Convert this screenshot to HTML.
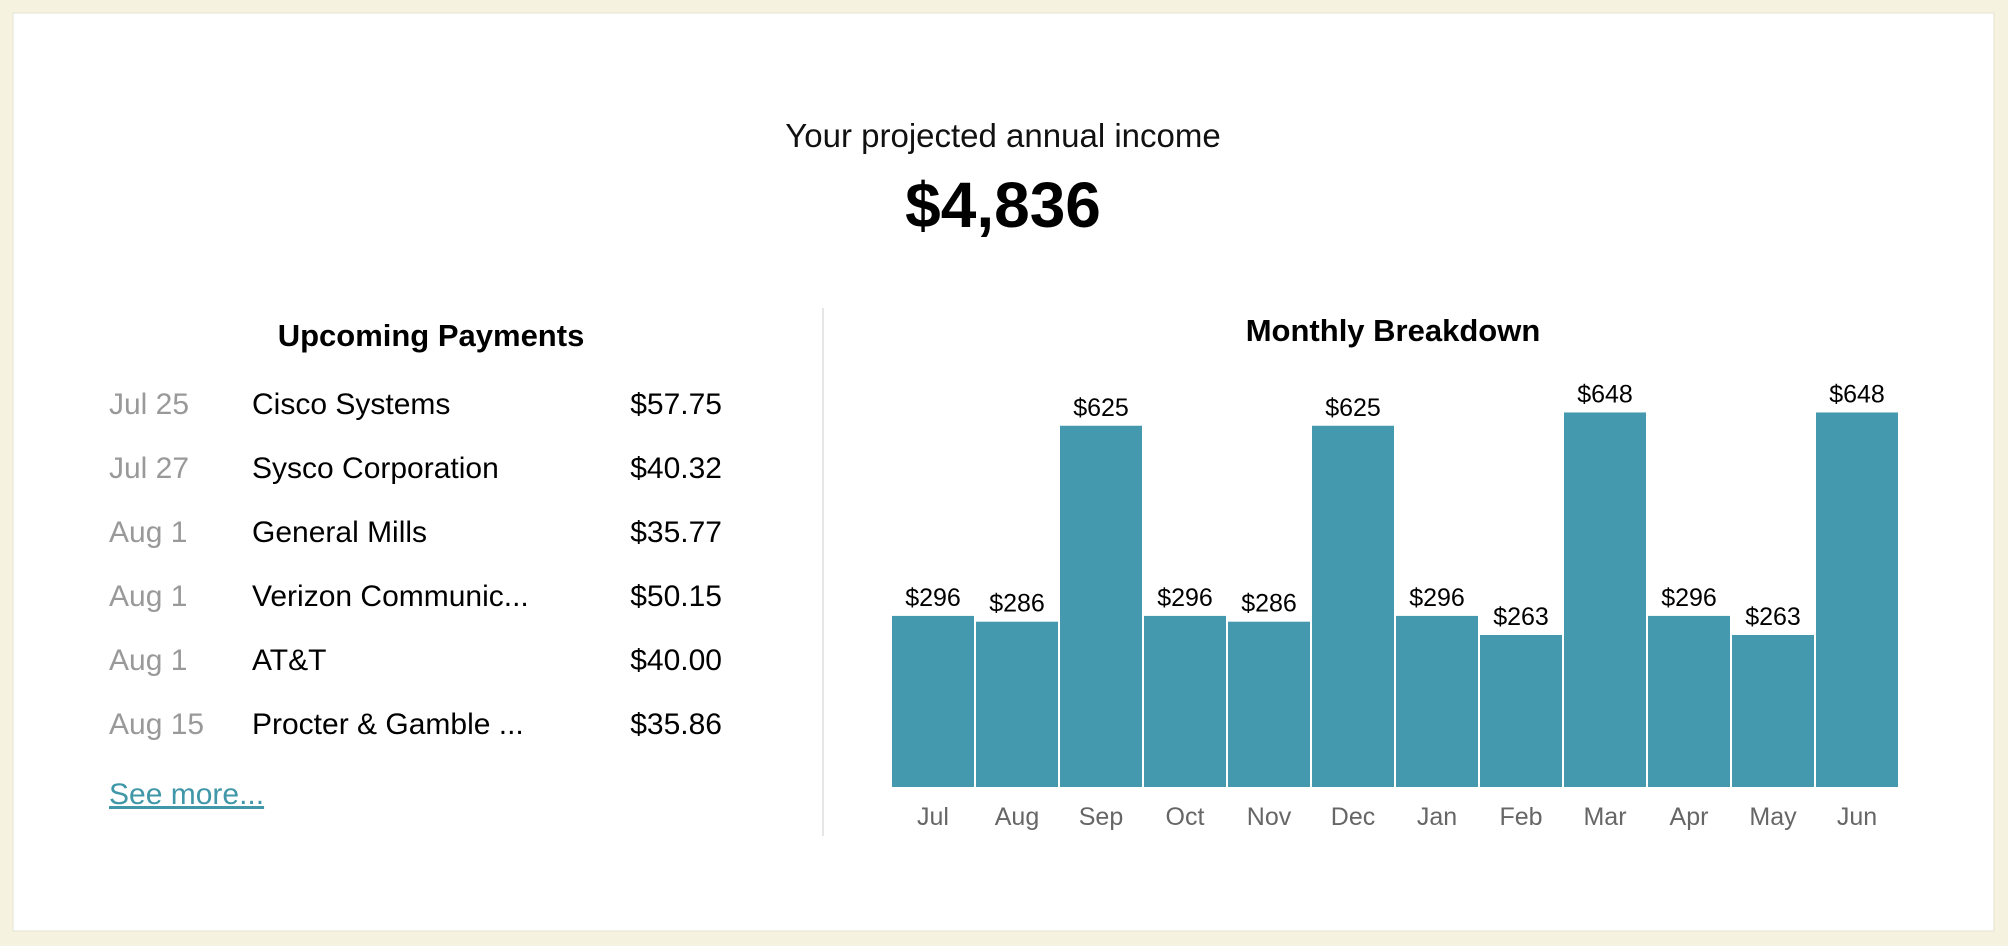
<!DOCTYPE html>
<html><head><meta charset="utf-8">
<style>
html,body{margin:0;padding:0;background:#f5f2e0;}
body{width:2008px;height:946px;overflow:hidden;font-family:"Liberation Sans",sans-serif;}
svg{display:block}
</style></head>
<body>
<svg width="2008" height="946" xmlns="http://www.w3.org/2000/svg" font-family="Liberation Sans, sans-serif">
<rect x="13" y="13" width="1981" height="918" fill="#fff" stroke="#e6e3d2" stroke-width="1"/>
<text x="1003" y="147" font-size="33" text-anchor="middle" fill="#111">Your projected annual income</text>
<text x="1003" y="227" font-size="64" font-weight="bold" text-anchor="middle" fill="#000">$4,836</text>
<line x1="823" y1="308" x2="823" y2="836" stroke="#ddd" stroke-width="1.5"/>
<text x="431" y="346" font-size="31" font-weight="bold" text-anchor="middle" fill="#000">Upcoming Payments</text>
<g id="rows"></g>
<text x="109" y="804" font-size="30" fill="#3f97a8" text-decoration="underline">See more...</text>
<text x="1393" y="341" font-size="31" font-weight="bold" text-anchor="middle" fill="#000">Monthly Breakdown</text>
<g id="chart"></g>
</svg>
<script>
const dates=["Jul 25","Jul 27","Aug 1","Aug 1","Aug 1","Aug 15"];
const payees=["Cisco Systems","Sysco Corporation","General Mills","Verizon Communic...","AT&T","Procter & Gamble ..."];
const amounts=["$57.75","$40.32","$35.77","$50.15","$40.00","$35.86"];
const months=["Jul","Aug","Sep","Oct","Nov","Dec","Jan","Feb","Mar","Apr","May","Jun"];
const values=[296,286,625,296,286,625,296,263,648,296,263,648];
const NS="http://www.w3.org/2000/svg";
function mk(tag,attrs,parent,txt){const e=document.createElementNS(NS,tag);for(const k in attrs)e.setAttribute(k,attrs[k]);if(txt!==undefined)e.textContent=txt;parent.appendChild(e);return e;}
const rows=document.getElementById('rows');
for(let i=0;i<dates.length;i++){
  const y=414+i*64;
  const d=mk('text',{x:109,y:y,'font-size':30,fill:'#999'},rows,dates[i]);
  
  
  const n=mk('text',{x:252,y:y,'font-size':30,fill:'#000'},rows,payees[i]);
  
  
  const a=mk('text',{x:722,y:y,'font-size':30,fill:'#000','text-anchor':'end'},rows,amounts[i]);
  
  
}
const chart=document.getElementById('chart');
const x0=892,step=84,bw=82,base=787,k=0.578;
function xs(i){return x0+i*step;}
function ys(v){return base-v*k;}
months.forEach((m,i)=>{
  const v=values[i];
  const r=mk('rect',{x:xs(i),y:ys(v),width:bw,height:base-ys(v),fill:'#4499ae'},chart);
  
  
  const t=mk('text',{x:xs(i)+bw/2,y:ys(v)-10,'font-size':25,'text-anchor':'middle',fill:'#000'},chart,'$'+v);
  
  
  const l=mk('text',{x:xs(i)+bw/2,y:825,'font-size':25,'text-anchor':'middle',fill:'#666'},chart,m);
  
  
});
</script>
</body></html>
